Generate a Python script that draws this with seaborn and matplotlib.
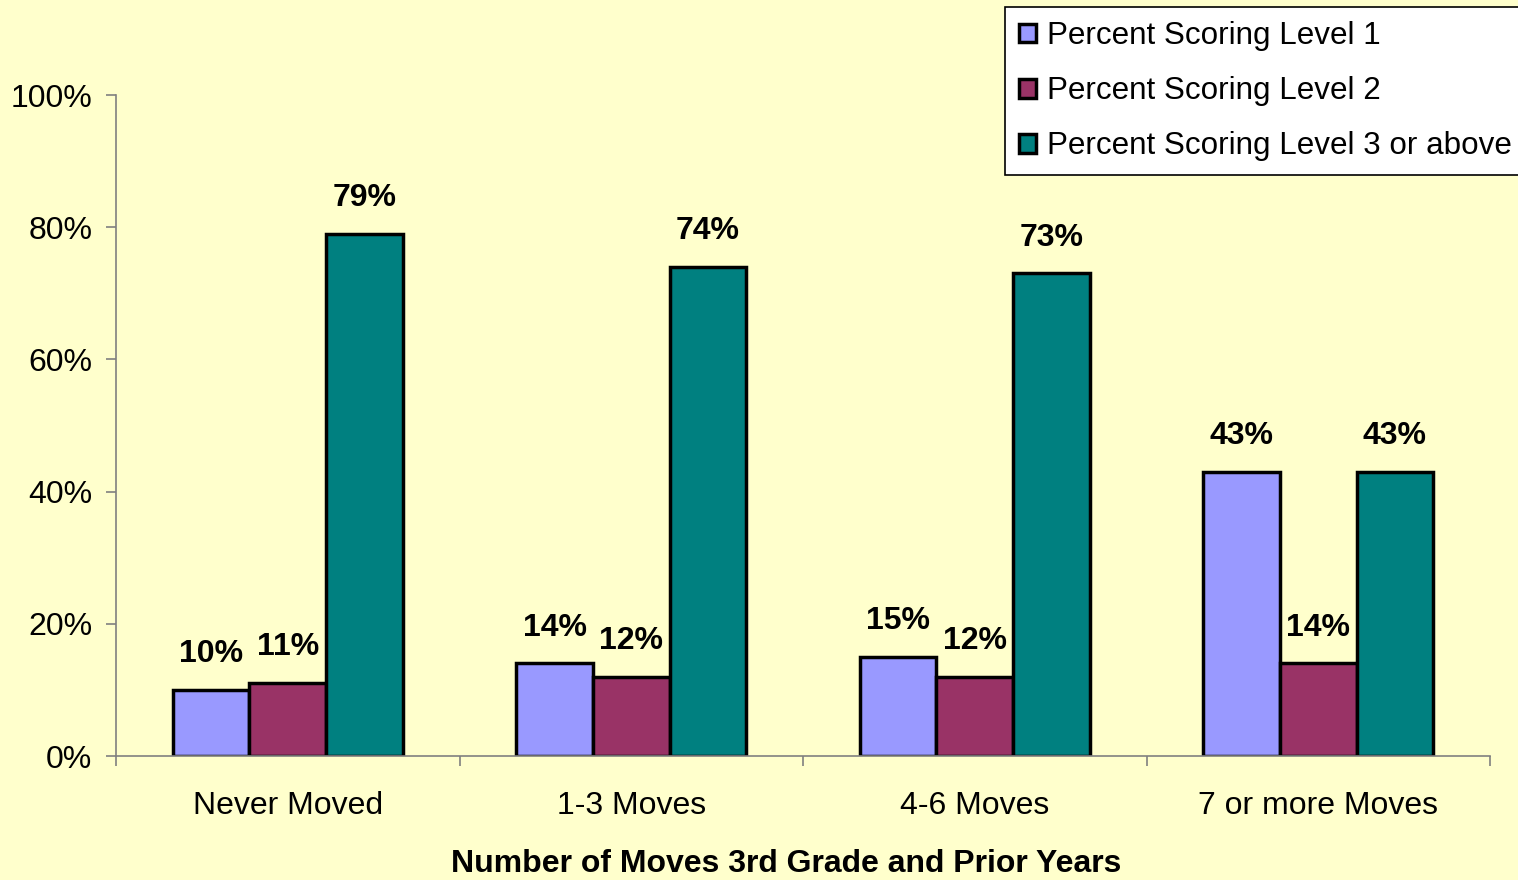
import pandas as pd
import seaborn as sns
import matplotlib.pyplot as plt
from matplotlib.ticker import PercentFormatter, FixedLocator

categories = ['Never Moved', '1-3 Moves', '4-6 Moves', '7 or more Moves']
series = ['Percent Scoring Level 1', 'Percent Scoring Level 2',
          'Percent Scoring Level 3 or above']
level1 = [10, 14, 15, 43]
level2 = [11, 12, 12, 14]
level3 = [79, 74, 73, 43]
colors = ['#9999FF', '#993366', '#008080']

rows = []
for name, vals in zip(series, [level1, level2, level3]):
    for cat, v in zip(categories, vals):
        rows.append({'moves': cat, 'level': name, 'pct': v / 100})
df = pd.DataFrame(rows)

sns.set_style('white')
plt.rcParams['font.family'] = ['Liberation Sans', 'DejaVu Sans']
plt.rcParams['text.color'] = 'black'
plt.rcParams['axes.labelcolor'] = 'black'

fig = plt.figure(figsize=(15.18, 8.8), dpi=100, facecolor='#FFFFCC')
ax = fig.add_axes([116 / 1518, 1 - 756 / 880, 1374 / 1518, 661 / 880])
ax.set_facecolor('#FFFFCC')

sns.barplot(data=df, x='moves', y='pct', hue='level', order=categories,
            hue_order=series, palette=colors, width=0.67,
            edgecolor='black', linewidth=2.5, ax=ax, saturation=1)

for cont in ax.containers:
    ax.bar_label(cont, labels=[f'{v * 100:.0f}%' for v in cont.datavalues],
                 padding=15, fontsize=23, fontweight='bold', color='black')

ax.set_ylim(0, 1)
ax.set_xlim(-0.5, 3.5)
ax.yaxis.set_major_formatter(PercentFormatter(1.0, decimals=0))
ax.set_yticks([0, 0.2, 0.4, 0.6, 0.8, 1.0])
ax.tick_params(axis='y', which='major', left=True, length=7, width=1.2,
               color='#808080', pad=10, labelsize=23, labelcolor='black')
ax.tick_params(axis='x', which='major', bottom=False, length=0, pad=25,
               labelsize=23, labelcolor='black')
ax.xaxis.set_minor_locator(FixedLocator([-0.5, 0.5, 1.5, 2.5, 3.5]))
ax.tick_params(axis='x', which='minor', bottom=True, length=7, width=1.2,
               color='#808080')

for s in ['top', 'right']:
    ax.spines[s].set_visible(False)
for s in ['left', 'bottom']:
    ax.spines[s].set_color('#808080')
    ax.spines[s].set_linewidth(1.2)

ax.set_ylabel('')
ax.set_xlabel('Number of Moves 3rd Grade and Prior Years', fontsize=23,
              fontweight='bold')
ax.xaxis.set_label_coords(0.488, -0.14)

handles, labels = ax.get_legend_handles_labels()
leg = fig.legend(handles, labels, loc='upper left',
                 bbox_to_anchor=(1005 / 1518, 1 - 7 / 880), fontsize=22.6,
                 frameon=True, fancybox=False, edgecolor='black',
                 facecolor='white', framealpha=1, handlelength=0.55,
                 handleheight=0.55, handletextpad=0.35, labelspacing=0.8,
                 borderpad=0.45, borderaxespad=0)
leg.get_frame().set_linewidth(1.2)
ax.get_legend().remove()

fig.savefig('out.png', dpi=100, facecolor='#FFFFCC')
